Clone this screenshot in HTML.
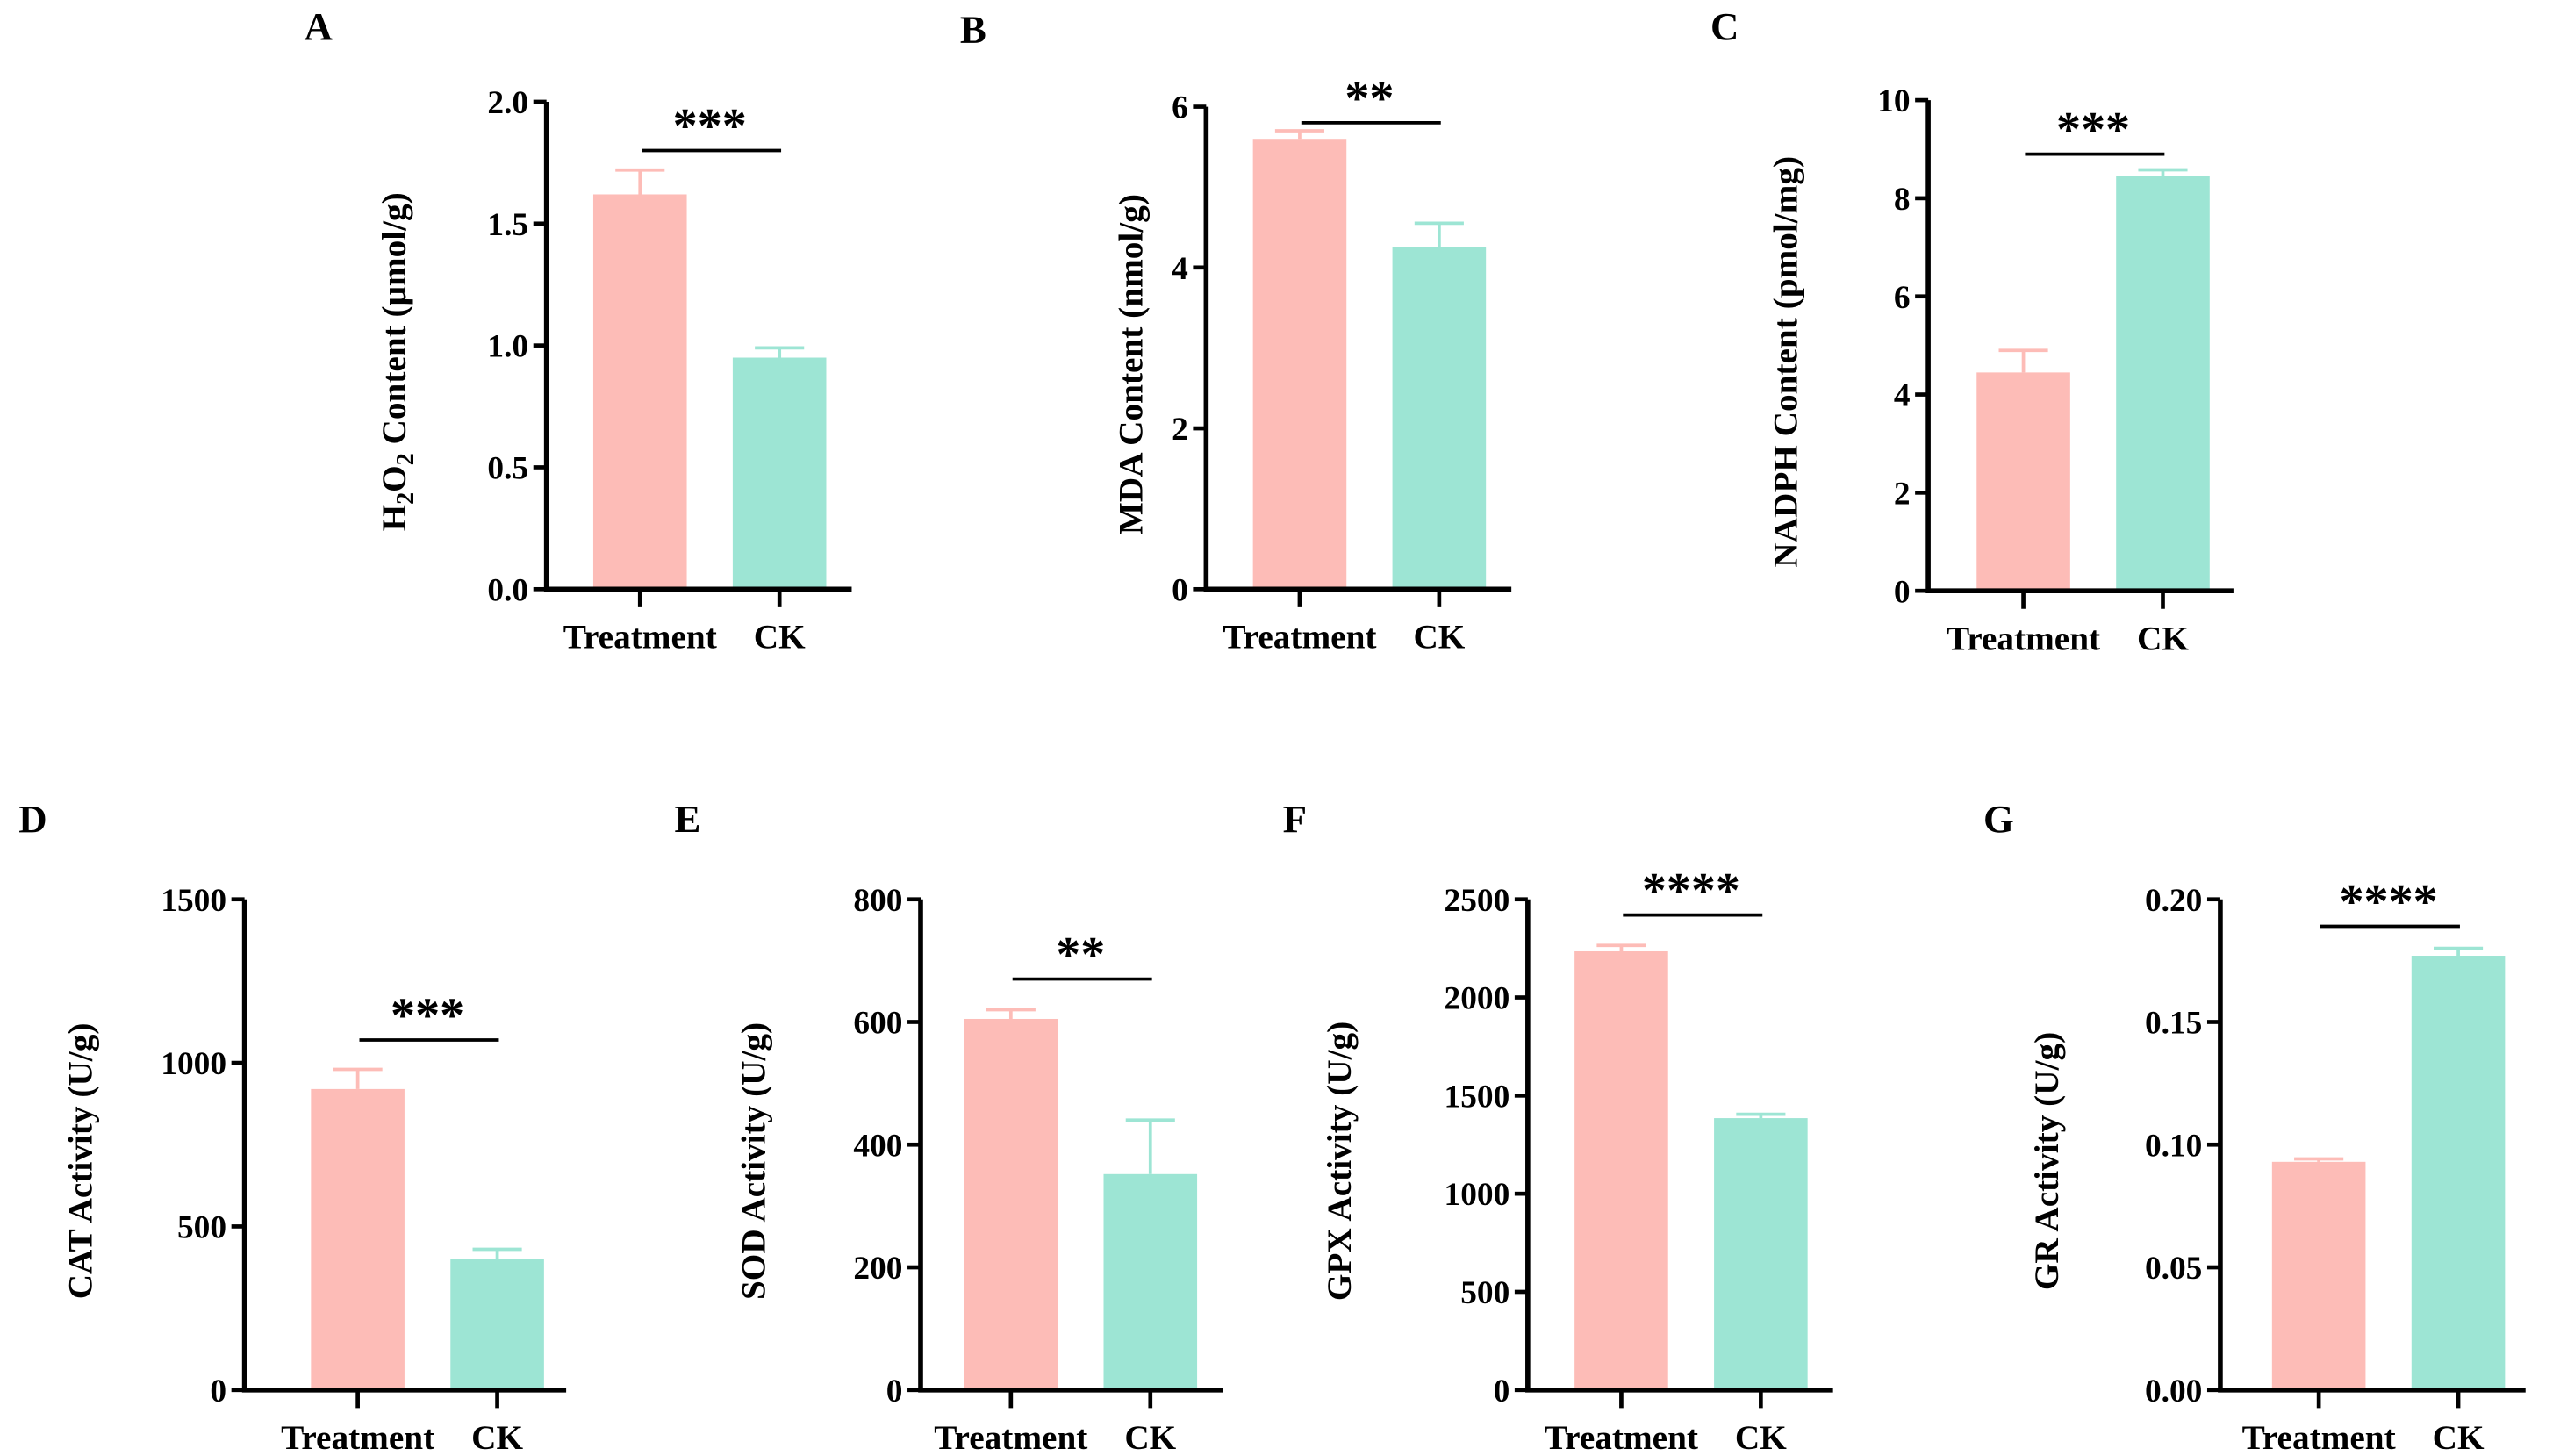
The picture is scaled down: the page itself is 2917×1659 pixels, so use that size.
<!DOCTYPE html>
<html><head><meta charset="utf-8">
<style>
html,body{margin:0;padding:0;background:#fff;}
svg{display:block;}
text{font-family:"Liberation Serif",serif;font-weight:bold;fill:#000;}
</style></head>
<body>
<svg id="fig" width="2917" height="1659" viewBox="0 0 1560 887.2" xmlns="http://www.w3.org/2000/svg"></svg>
<script>
const categories = ["Treatment","CK"];
const panelLetters = ["A","B","C","D","E","F","G"];
const yTitles = ["H2O2 Content (μmol/g)","MDA Content (nmol/g)","NADPH Content (pmol/mg)","CAT Activity (U/g)","SOD Activity (U/g)","GPX Activity (U/g)","GR Activity (U/g)"];
const treatmentValues = [1.62, 5.6, 4.45, 920, 605, 2235, 0.093];
const treatmentErrors = [0.10, 0.10, 0.45, 60, 15, 30, 0.0012];
const ckValues = [0.95, 4.25, 8.45, 400, 352, 1385, 0.177];
const ckErrors = [0.04, 0.30, 0.13, 30, 88, 20, 0.003];
const significance = ["***","**","***","***","**","****","****"];
const sigLevels = [1.80, 5.8, 8.9, 1070, 670, 2420, 0.189];
const yMaxes = [2.0, 6, 10, 1500, 800, 2500, 0.20];
const tickLabels = [
  ["0.0","0.5","1.0","1.5","2.0"],
  ["0","2","4","6"],
  ["0","2","4","6","8","10"],
  ["0","500","1000","1500"],
  ["0","200","400","600","800"],
  ["0","500","1000","1500","2000","2500"],
  ["0.00","0.05","0.10","0.15","0.20"]
];

// layout (not data)
const layout = [
  {ax:333, top:62, bot:359, lx:194, ly:24, tx:240, off:57, len:186},
  {ax:735, top:65, bot:359, lx:593, ly:26, tx:689, off:57, len:186},
  {ax:1175, top:61, bot:360, lx:1051, ly:24, tx:1088, off:58, len:186},
  {ax:149, top:548, bot:847, lx:20, ly:507, tx:49, off:69, len:196},
  {ax:561, top:548, bot:847, lx:419, ly:507, tx:459, off:55, len:184},
  {ax:931, top:548, bot:847, lx:789, ly:507, tx:816, off:57, len:186},
  {ax:1353, top:548, bot:847, lx:1218, ly:507, tx:1247, off:60, len:186}
];
const colors = ["#fdbcb7","#9de5d4"];
const NS = "http://www.w3.org/2000/svg";
const svg = document.getElementById("fig");
function mk(tag, attrs, parent){
  const e = document.createElementNS(NS, tag);
  for (const k in attrs) e.setAttribute(k, attrs[k]);
  (parent||svg).appendChild(e);
  return e;
}
for (let p = 0; p < 7; p++) {
  const L = layout[p];
  const g = mk("g", {});
  
  
  const y = v => L.bot - (v / yMaxes[p]) * (L.bot - L.top);
  const xc = i => L.ax + L.off + i * 85;
  const lt = mk("text", {x:L.lx, y:L.ly, "font-size":24, "text-anchor":"middle"}, g);
  lt.textContent = panelLetters[p];
  
  
  const vals = [treatmentValues[p], ckValues[p]];
  const errs = [treatmentErrors[p], ckErrors[p]];
  for (let i = 0; i < 2; i++) {
    const r = mk("rect", {x:xc(i)-28.5, y:y(vals[i]), width:57, height:L.bot - y(vals[i]), fill:colors[i]}, g);
    
    
    const eg = mk("path", {d:`M${xc(i)} ${y(vals[i])}V${y(vals[i]+errs[i])}M${xc(i)-15} ${y(vals[i]+errs[i])}H${xc(i)+15}`, stroke:colors[i], "stroke-width":2, fill:"none"}, g);
    
    
    const tk = mk("line", {x1:xc(i), x2:xc(i), y1:L.bot, y2:L.bot+11, stroke:"#000", "stroke-width":2.5}, g);
    
    
    const xl = mk("text", {x:xc(i), y:L.bot+36, "font-size":21, "text-anchor":"middle"}, g);
    xl.textContent = categories[i];
    
    
  }
  const axes = mk("path", {d:`M${L.ax} ${L.top}V${L.bot}H${L.ax+L.len}`, stroke:"#000", "stroke-width":3, fill:"none"}, g);
  
  
  const labs = tickLabels[p];
  for (let k = 0; k < labs.length; k++) {
    const v = yMaxes[p] * k / (labs.length - 1);
    const t = mk("line", {x1:L.ax-8, x2:L.ax, y1:y(v), y2:y(v), stroke:"#000", "stroke-width":2.5}, g);
    
    
    const tl = mk("text", {x:L.ax-11, y:y(v)+7, "font-size":20, "text-anchor":"end"}, g);
    tl.textContent = labs[k];
    
    
  }
  const cy = (L.top + L.bot) / 2 + 10;
  const yt = mk("text", {x:0, y:0, "font-size":21, "text-anchor":"middle", transform:`translate(${L.tx+7},${cy}) rotate(-90)`}, g);
  if (p === 0) {
    yt.innerHTML = 'H<tspan font-size="15" dy="5">2</tspan><tspan dy="-5">O</tspan><tspan font-size="15" dy="5">2</tspan><tspan dy="-5"> Content (μmol/g)</tspan>';
  } else yt.textContent = yTitles[p];
  
  
  const sy = y(sigLevels[p]);
  const sl = mk("line", {x1:xc(0)+1, x2:xc(1)+1, y1:sy, y2:sy, stroke:"#000", "stroke-width":2}, g);
  
  
  const st = mk("text", {x:(xc(0)+xc(1))/2, y:sy-5, "font-size":30, "text-anchor":"middle", "font-family":"Liberation Sans, sans-serif"}, g);
  st.textContent = significance[p];
  
  
}
</script>
</body></html>
